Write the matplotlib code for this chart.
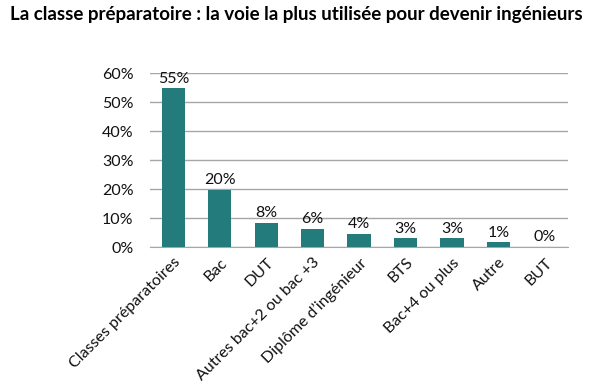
import matplotlib
matplotlib.use("Agg")
import matplotlib.pyplot as plt
from matplotlib.ticker import PercentFormatter

categories = ["Classes préparatoires", "Bac", "DUT", "Autres bac+2 ou bac +3",
              "Diplôme d’ingénieur", "BTS", "Bac+4 ou plus", "Autre", "BUT"]
values = [54.7, 19.8, 8.2, 6.2, 4.6, 3.0, 3.0, 1.6, 0.0]
labels = ["55%", "20%", "8%", "6%", "4%", "3%", "3%", "1%", "0%"]
yticks = [0, 10, 20, 30, 40, 50, 60]

plt.rcParams["font.family"] = ["Lato", "DejaVu Sans"]

fig = plt.figure(figsize=(5.98, 3.91), dpi=100)
ax = fig.add_axes([0.251, 0.368, 0.699, 0.445])

x = range(len(categories))
bars = ax.bar(x, values, width=0.5, color="#237b7b", zorder=3)
for b, lab in zip(bars, labels):
    ax.text(b.get_x() + b.get_width() / 2, b.get_height() + 1.0, lab,
            ha="center", va="bottom", fontsize=11.5, color="#111111")

ax.set_xlim(-0.5, len(categories) - 0.5)
ax.set_ylim(0, 60)
ax.set_yticks(yticks)
ax.yaxis.set_major_formatter(PercentFormatter(decimals=0))
ax.grid(axis="y", color="#a6a6a6", lw=1, zorder=0)
for s in ["top", "right", "left"]:
    ax.spines[s].set_visible(False)
ax.spines["bottom"].set_color("#a6a6a6")
ax.tick_params(axis="both", length=0, labelsize=11.5, colors="#111111")
ax.tick_params(axis="y", pad=12)
ax.tick_params(axis="x", pad=6)
ax.set_xticks(list(x))
ax.set_xticklabels(categories, rotation=45, ha="right", rotation_mode="anchor")

fig.text(0.017, 0.962, "La classe préparatoire : la voie la plus utilisée pour devenir ingénieurs",
         fontsize=13.5, fontweight="bold", ha="left", va="center")

fig.savefig("out.png", dpi=100, facecolor="white")
